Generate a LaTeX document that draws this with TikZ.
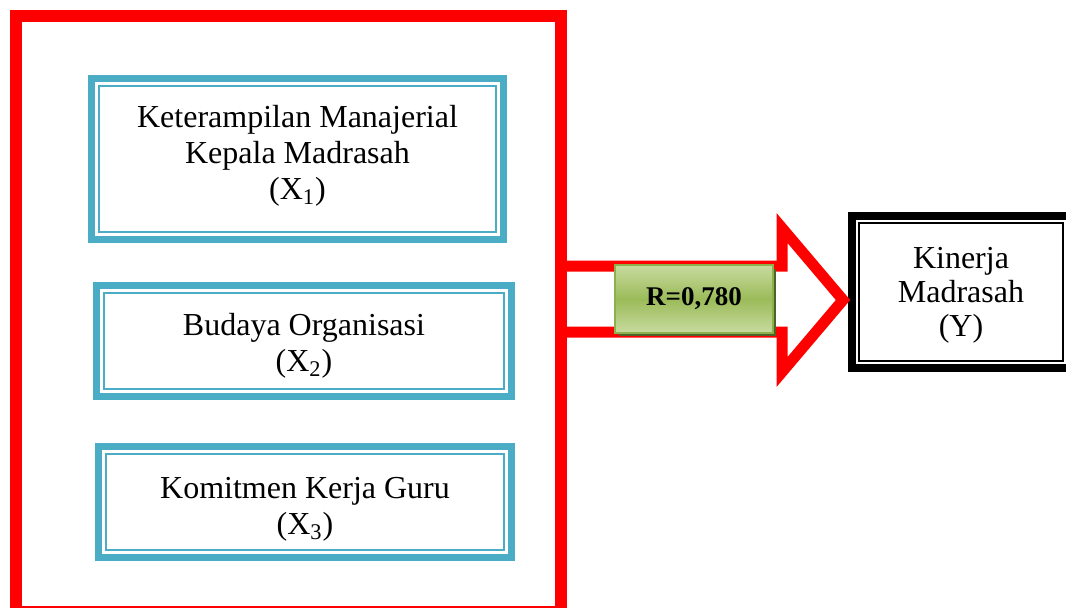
\documentclass[tikz,border=0pt]{standalone}
\usepackage{fontspec}
\setmainfont{Liberation Serif}
\usepackage{tikz}
\usetikzlibrary{arrows}
\definecolor{T}{RGB}{75, 172, 198}
\definecolor{G}{RGB}{155, 187, 89}
\definecolor{GL}{RGB}{200, 219, 160}
\definecolor{GD}{RGB}{79, 98, 40}
\definecolor{GB}{RGB}{140, 176, 74}

\tikzset{
  varbox/.style={draw=T, line width=3.5pt, outer sep=0pt, align=center,
    font=\fontsize{16}{18}\selectfont},
  innerline/.style={draw=T, line width=1pt},
  ybox/.style={draw=black, line width=4pt, outer sep=0pt, align=center,
    font=\fontsize{16}{17}\selectfont},
  panah/.style={draw=red, line width=5.5pt, line join=miter},
  rbox/.style={draw=GB, line width=1pt, top color=GL, bottom color=GL,
    middle color=G, minimum width=79pt, minimum height=34pt,
    font=\bfseries\fontsize{13.5}{15}\selectfont}
}

\begin{document}
\begin{tikzpicture}[x=0.5pt,y=-0.5pt]
  %# KANVAS
  \useasboundingbox (0,0) rectangle (1066,607);
  \clip (0,0) rectangle (1066,607);

  %# BINGKAI MERAH
  \node[draw=red, line width=6pt, outer sep=0pt, minimum width=272.5pt,
    minimum height=298pt] (kerangka) at (288.5,314) {};

  %# VARIABEL X
  \node[varbox, minimum width=206pt, minimum height=80.5pt] (x1) at (297.5,159)
    {Keterampilan Manajerial\\Kepala Madrasah\\(X\textsubscript{1})\rule[-7pt]{0pt}{0pt}};
  \node[varbox, minimum width=207.5pt, minimum height=55.5pt] (x2) at (304,341)
    {\rule{0pt}{16pt}Budaya Organisasi\\(X\textsubscript{2})};
  \node[varbox, minimum width=206.5pt, minimum height=55.5pt] (x3) at (305,502)
    {\rule{0pt}{18pt}Komitmen Kerja Guru\\(X\textsubscript{3})};
  \foreach \b in {x1,x2,x3}
    \draw[innerline] ([shift={(3.75pt,-3.75pt)}]\b.north west)
      rectangle ([shift={(-3.75pt,3.75pt)}]\b.south east);

  %# VARIABEL Y
  \node[ybox, minimum width=109pt, minimum height=76pt] (y) at (961,292)
    {\rule{0pt}{14pt}Kinerja\\Madrasah\\(Y)};
  \draw[black, line width=0.9pt] ([shift={(3.5pt,-3.5pt)}]y.north west)
    rectangle ([shift={(-3.5pt,3.5pt)}]y.south east);

  %# PANAH
  \coordinate (ujung) at (843,300);
  \draw[panah] (kerangka.east |- 0,266) -- (782,266) -- (782,228) -- (ujung)
    -- (782,372) -- (782,332) -- (kerangka.east |- 0,332);

  %# NILAI R
  \fill[GD] (619,269) rectangle (776,336);
  \node[rbox] (r) at (694,299) {R=0,780};
\end{tikzpicture}
\end{document}
